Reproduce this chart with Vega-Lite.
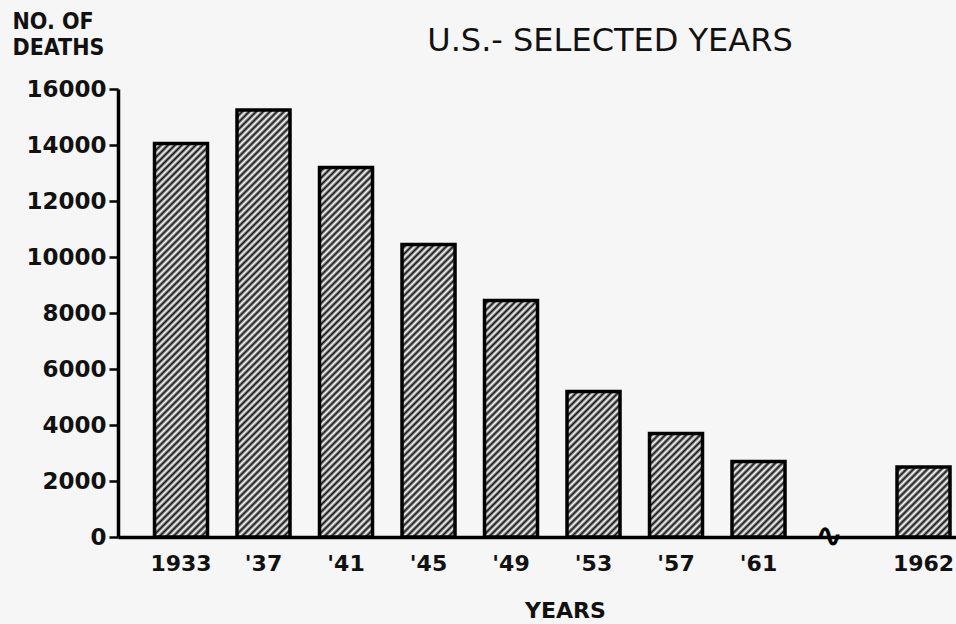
{
  "$schema": "https://vega.github.io/schema/vega-lite/v6.json",
  "width": 838,
  "height": 448,
  "autosize": {"type": "none"},
  "padding": {"left": 118, "top": 89, "right": 0, "bottom": 87},
  "background": "#f6f6f6",
  "title": {
    "text": "U.S.- SELECTED YEARS",
    "font": "DejaVu Sans",
    "fontSize": 32,
    "fontWeight": "normal",
    "color": "#111",
    "anchor": "middle",
    "frame": "group",
    "dx": 73,
    "offset": -48
  },
  "config": {"view": {"stroke": null}},
  "data": {
    "values": [
      {"year": "1933", "deaths": 14050},
      {"year": "'37", "deaths": 15250},
      {"year": "'41", "deaths": 13200},
      {"year": "'45", "deaths": 10450},
      {"year": "'49", "deaths": 8450},
      {"year": "'53", "deaths": 5200},
      {"year": "'57", "deaths": 3700},
      {"year": "'61", "deaths": 2700},
      {"year": "1962", "deaths": 2500}
    ]
  },
  "encoding": {
    "x": {
      "field": "year",
      "type": "ordinal",
      "sort": null,
      "scale": {
        "domain": ["1933", "'37", "'41", "'45", "'49", "'53", "'57", "'61", "break", "1962"],
        "paddingInner": 0.3576,
        "paddingOuter": 0.2576,
        "align": 0.859
      },
      "axis": {
        "title": "YEARS",
        "titleFont": "DejaVu Sans",
        "titleFontSize": 22,
        "titleFontWeight": "bold",
        "titleColor": "#111",
        "titleX": 447,
        "titleY": 73,
        "titleAlign": "center",
        "titleBaseline": "middle",
        "labelAngle": 0,
        "labelFont": "DejaVu Sans",
        "labelFontSize": 22,
        "labelFontWeight": "bold",
        "labelColor": "#111",
        "labelPadding": 16,
        "labelExpr": "datum.value == 'break' ? '' : datum.label",
        "ticks": false,
        "domainColor": "#000",
        "domainWidth": 3.5
      }
    }
  },
  "layer": [
    {
      "mark": {
        "type": "bar",
        "stroke": null,
        "fill": {
          "gradient": "linear",
          "x1": 0, "y1": 0, "x2": 0.13047, "y2": 1.10284,
          "stops": [
            {"offset": 0, "color": "#111"}, {"offset": 0.00694, "color": "#fff"},
            {"offset": 0.01389, "color": "#111"}, {"offset": 0.02083, "color": "#fff"},
            {"offset": 0.02778, "color": "#111"}, {"offset": 0.03472, "color": "#fff"},
            {"offset": 0.04167, "color": "#111"}, {"offset": 0.04861, "color": "#fff"},
            {"offset": 0.05556, "color": "#111"}, {"offset": 0.0625, "color": "#fff"},
            {"offset": 0.06944, "color": "#111"}, {"offset": 0.07639, "color": "#fff"},
            {"offset": 0.08333, "color": "#111"}, {"offset": 0.09028, "color": "#fff"},
            {"offset": 0.09722, "color": "#111"}, {"offset": 0.10417, "color": "#fff"},
            {"offset": 0.11111, "color": "#111"}, {"offset": 0.11806, "color": "#fff"},
            {"offset": 0.125, "color": "#111"}, {"offset": 0.13194, "color": "#fff"},
            {"offset": 0.13889, "color": "#111"}, {"offset": 0.14583, "color": "#fff"},
            {"offset": 0.15278, "color": "#111"}, {"offset": 0.15972, "color": "#fff"},
            {"offset": 0.16667, "color": "#111"}, {"offset": 0.17361, "color": "#fff"},
            {"offset": 0.18056, "color": "#111"}, {"offset": 0.1875, "color": "#fff"},
            {"offset": 0.19444, "color": "#111"}, {"offset": 0.20139, "color": "#fff"},
            {"offset": 0.20833, "color": "#111"}, {"offset": 0.21528, "color": "#fff"},
            {"offset": 0.22222, "color": "#111"}, {"offset": 0.22917, "color": "#fff"},
            {"offset": 0.23611, "color": "#111"}, {"offset": 0.24306, "color": "#fff"},
            {"offset": 0.25, "color": "#111"}, {"offset": 0.25694, "color": "#fff"},
            {"offset": 0.26389, "color": "#111"}, {"offset": 0.27083, "color": "#fff"},
            {"offset": 0.27778, "color": "#111"}, {"offset": 0.28472, "color": "#fff"},
            {"offset": 0.29167, "color": "#111"}, {"offset": 0.29861, "color": "#fff"},
            {"offset": 0.30556, "color": "#111"}, {"offset": 0.3125, "color": "#fff"},
            {"offset": 0.31944, "color": "#111"}, {"offset": 0.32639, "color": "#fff"},
            {"offset": 0.33333, "color": "#111"}, {"offset": 0.34028, "color": "#fff"},
            {"offset": 0.34722, "color": "#111"}, {"offset": 0.35417, "color": "#fff"},
            {"offset": 0.36111, "color": "#111"}, {"offset": 0.36806, "color": "#fff"},
            {"offset": 0.375, "color": "#111"}, {"offset": 0.38194, "color": "#fff"},
            {"offset": 0.38889, "color": "#111"}, {"offset": 0.39583, "color": "#fff"},
            {"offset": 0.40278, "color": "#111"}, {"offset": 0.40972, "color": "#fff"},
            {"offset": 0.41667, "color": "#111"}, {"offset": 0.42361, "color": "#fff"},
            {"offset": 0.43056, "color": "#111"}, {"offset": 0.4375, "color": "#fff"},
            {"offset": 0.44444, "color": "#111"}, {"offset": 0.45139, "color": "#fff"},
            {"offset": 0.45833, "color": "#111"}, {"offset": 0.46528, "color": "#fff"},
            {"offset": 0.47222, "color": "#111"}, {"offset": 0.47917, "color": "#fff"},
            {"offset": 0.48611, "color": "#111"}, {"offset": 0.49306, "color": "#fff"},
            {"offset": 0.5, "color": "#111"}, {"offset": 0.50694, "color": "#fff"},
            {"offset": 0.51389, "color": "#111"}, {"offset": 0.52083, "color": "#fff"},
            {"offset": 0.52778, "color": "#111"}, {"offset": 0.53472, "color": "#fff"},
            {"offset": 0.54167, "color": "#111"}, {"offset": 0.54861, "color": "#fff"},
            {"offset": 0.55556, "color": "#111"}, {"offset": 0.5625, "color": "#fff"},
            {"offset": 0.56944, "color": "#111"}, {"offset": 0.57639, "color": "#fff"},
            {"offset": 0.58333, "color": "#111"}, {"offset": 0.59028, "color": "#fff"},
            {"offset": 0.59722, "color": "#111"}, {"offset": 0.60417, "color": "#fff"},
            {"offset": 0.61111, "color": "#111"}, {"offset": 0.61806, "color": "#fff"},
            {"offset": 0.625, "color": "#111"}, {"offset": 0.63194, "color": "#fff"},
            {"offset": 0.63889, "color": "#111"}, {"offset": 0.64583, "color": "#fff"},
            {"offset": 0.65278, "color": "#111"}, {"offset": 0.65972, "color": "#fff"},
            {"offset": 0.66667, "color": "#111"}, {"offset": 0.67361, "color": "#fff"},
            {"offset": 0.68056, "color": "#111"}, {"offset": 0.6875, "color": "#fff"},
            {"offset": 0.69444, "color": "#111"}, {"offset": 0.70139, "color": "#fff"},
            {"offset": 0.70833, "color": "#111"}, {"offset": 0.71528, "color": "#fff"},
            {"offset": 0.72222, "color": "#111"}, {"offset": 0.72917, "color": "#fff"},
            {"offset": 0.73611, "color": "#111"}, {"offset": 0.74306, "color": "#fff"},
            {"offset": 0.75, "color": "#111"}, {"offset": 0.75694, "color": "#fff"},
            {"offset": 0.76389, "color": "#111"}, {"offset": 0.77083, "color": "#fff"},
            {"offset": 0.77778, "color": "#111"}, {"offset": 0.78472, "color": "#fff"},
            {"offset": 0.79167, "color": "#111"}, {"offset": 0.79861, "color": "#fff"},
            {"offset": 0.80556, "color": "#111"}, {"offset": 0.8125, "color": "#fff"},
            {"offset": 0.81944, "color": "#111"}, {"offset": 0.82639, "color": "#fff"},
            {"offset": 0.83333, "color": "#111"}, {"offset": 0.84028, "color": "#fff"},
            {"offset": 0.84722, "color": "#111"}, {"offset": 0.85417, "color": "#fff"},
            {"offset": 0.86111, "color": "#111"}, {"offset": 0.86806, "color": "#fff"},
            {"offset": 0.875, "color": "#111"}, {"offset": 0.88194, "color": "#fff"},
            {"offset": 0.88889, "color": "#111"}, {"offset": 0.89583, "color": "#fff"},
            {"offset": 0.90278, "color": "#111"}, {"offset": 0.90972, "color": "#fff"},
            {"offset": 0.91667, "color": "#111"}, {"offset": 0.92361, "color": "#fff"},
            {"offset": 0.93056, "color": "#111"}, {"offset": 0.9375, "color": "#fff"},
            {"offset": 0.94444, "color": "#111"}, {"offset": 0.95139, "color": "#fff"},
            {"offset": 0.95833, "color": "#111"}, {"offset": 0.96528, "color": "#fff"},
            {"offset": 0.97222, "color": "#111"}, {"offset": 0.97917, "color": "#fff"},
            {"offset": 0.98611, "color": "#111"}, {"offset": 0.99306, "color": "#fff"},
            {"offset": 1, "color": "#111"}
          ]
        }
      },
      "encoding": {
        "y": {
          "datum": 0,
          "type": "quantitative",
          "scale": {"domain": [0, 16000], "nice": false, "zero": true},
          "axis": {
            "title": ["NO. OF", "DEATHS"],
            "titleFont": "DejaVu Sans Condensed",
            "titleFontSize": 23,
            "titleFontWeight": "bold",
            "titleColor": "#111",
            "titleAngle": 0,
            "titleAlign": "left",
            "titleBaseline": "top",
            "titleX": -106,
            "titleY": -79,
            "titleLineHeight": 26,
            "values": [0, 1000, 2000, 3000, 4000, 5000, 6000, 7000, 8000, 9000, 10000, 11000, 12000, 13000, 14000, 15000, 16000],
            "format": "d",
            "labelExpr": "datum.value % 2000 == 0 ? datum.label : ''",
            "labelFont": "DejaVu Sans",
            "labelFontSize": 23,
            "labelFontWeight": "bold",
            "labelColor": "#111",
            "labelPadding": 3,
            "tickColor": "#000",
            "tickWidth": 2.5,
            "tickSize": 9,
            "domainColor": "#000",
            "domainWidth": 3.5,
            "grid": false
          }
        },
        "y2": {"datum": 16000}
      }
    },
    {
      "mark": {"type": "bar", "fill": "#f6f6f6", "stroke": "#f6f6f6", "strokeWidth": 1},
      "encoding": {
        "y": {"field": "deaths", "type": "quantitative"},
        "y2": {"datum": 16000}
      }
    },
    {
      "mark": {"type": "bar", "fillOpacity": 0, "stroke": "#000", "strokeWidth": 3.5},
      "encoding": {
        "y": {"field": "deaths", "type": "quantitative"}
      }
    },
    {
      "data": {"values": [{"year": "break"}]},
      "mark": {"type": "text", "text": "∿", "font": "DejaVu Sans", "fontSize": 34, "fontWeight": "bold", "color": "#000", "baseline": "middle", "align": "center", "dx": -12},
      "encoding": {
        "y": {"datum": 0, "type": "quantitative"}
      }
    }
  ]
}
